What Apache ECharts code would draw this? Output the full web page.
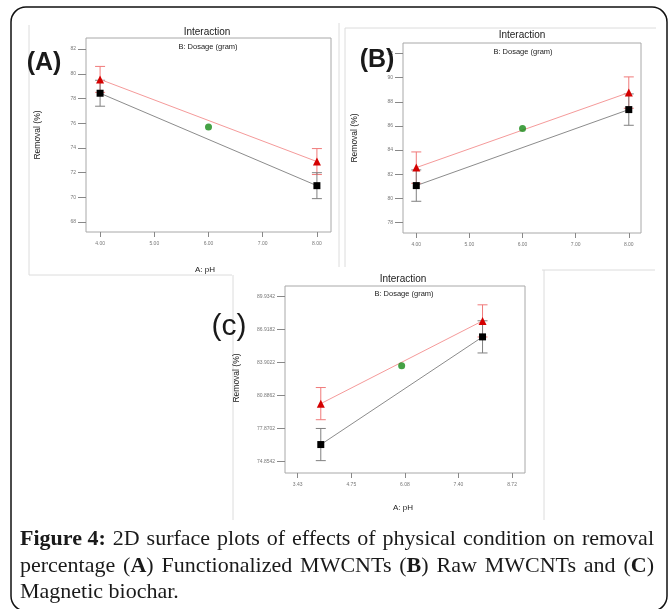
<!DOCTYPE html>
<html>
<head>
<meta charset="utf-8">
<script src="https://cdn.jsdelivr.net/npm/echarts@6/dist/echarts.min.js"></script>
<style>
html, body { margin: 0; padding: 0; background: #fff; }
#main { width: 671px; height: 609px; }
</style>
</head>
<body>
<div id="main"></div>
<script>
// A: pH levels where the two dosage lines sit, and the centre point
var pHLevels = [4, 8];
var centerPH = 6;

// (A) Functionalized MWCNTs
var aHigh = [79.55, 72.9];      // red triangles
var aLow = [78.43, 70.95];      // black squares
var aCenter = 75.7;             // green centre point
var aErr = 1.05;
var aTicksX = [4, 5, 6, 7, 8];
var aTicksY = [68, 70, 72, 74, 76, 78, 80, 82];

// (B) Raw MWCNTs
var bHigh = [82.55, 88.77];
var bLow = [81.06, 87.36];
var bCenter = 85.8;
var bErr = 1.3;
var bTicksX = [4, 5, 6, 7, 8];
var bTicksY = [78, 80, 82, 84, 86, 88, 90, 92];

// (C) Magnetic biochar
var cHigh = [80.12, 87.68];
var cLow = [76.38, 86.22];
var cCenter = 83.58;
var cErr = 1.47;
var cTicksX = [3.43, 4.755, 6.08, 7.405, 8.73];
var cLabelsX = ['3.43', '4.75', '6.08', '7.40', '8.72'];
var cTicksY = [74.8542, 77.8702, 80.8862, 83.9022, 86.9182, 89.9342];

var chart = echarts.init(document.getElementById('main'));

var grids = [
    { left: 86, top: 38, width: 245, height: 194 },
    { left: 403, top: 43, width: 238, height: 190 },
    { left: 285, top: 286, width: 240, height: 187 }
];
grids.forEach(function (g) {
    g.show = true;
    g.borderColor = '#a8a8a8';
    g.borderWidth = 1;
    g.backgroundColor = '#fff';
});

function makeX(idx, min, max, ticks, fmt) {
    return {
        type: 'value', gridIndex: idx, min: min, max: max,
        axisLine: { show: false, onZero: false },
        splitLine: { show: false },
        axisTick: { show: true, length: 5, customValues: ticks, lineStyle: { color: '#888' } },
        axisLabel: { customValues: ticks, fontSize: 5, color: '#777', margin: 9, formatter: fmt }
    };
}
function makeY(idx, min, max, ticks, fmt) {
    return {
        type: 'value', gridIndex: idx, min: min, max: max,
        axisLine: { show: false, onZero: false },
        splitLine: { show: false },
        axisTick: { show: true, length: 8, customValues: ticks, lineStyle: { color: '#888' } },
        axisLabel: { customValues: ticks, fontSize: 5, color: '#777', margin: 10, formatter: fmt }
    };
}
var fix2 = function (v) { return v.toFixed(2); };
var intFmt = function (v) { return String(Math.round(v)); };

function errorBar(params, api) {
    var x = api.value(0);
    var lo = api.coord([x, api.value(1)]);
    var hi = api.coord([x, api.value(2)]);
    var st = { stroke: api.visual('color'), lineWidth: 1 };
    var hw = 5;
    return {
        type: 'group',
        children: [
            { type: 'line', shape: { x1: lo[0], y1: lo[1], x2: hi[0], y2: hi[1] }, style: st },
            { type: 'line', shape: { x1: hi[0] - hw, y1: hi[1], x2: hi[0] + hw, y2: hi[1] }, style: st },
            { type: 'line', shape: { x1: lo[0] - hw, y1: lo[1], x2: lo[0] + hw, y2: lo[1] }, style: st }
        ]
    };
}

function pairs(vals) {
    return pHLevels.map(function (x, i) { return [x, vals[i]]; });
}
function errs(vals, e) {
    return pHLevels.map(function (x, i) { return [x, vals[i] - e, vals[i] + e]; });
}

function panelSeries(idx, high, low, center, e) {
    return [{
        type: 'custom', xAxisIndex: idx, yAxisIndex: idx,
        renderItem: errorBar, encode: { x: 0, y: [1, 2] },
        itemStyle: { color: '#f07a7a' }, data: errs(high, e), z: 2
    }, {
        type: 'custom', xAxisIndex: idx, yAxisIndex: idx,
        renderItem: errorBar, encode: { x: 0, y: [1, 2] },
        itemStyle: { color: '#808080' }, data: errs(low, e), z: 2
    }, {
        type: 'line', xAxisIndex: idx, yAxisIndex: idx,
        data: pairs(high), symbol: 'triangle', symbolSize: 8,
        lineStyle: { color: '#f59a9a', width: 1 },
        itemStyle: { color: '#d40000' }, z: 3
    }, {
        type: 'line', xAxisIndex: idx, yAxisIndex: idx,
        data: pairs(low), symbol: 'rect', symbolSize: 7,
        lineStyle: { color: '#8c8c8c', width: 1 },
        itemStyle: { color: '#000' }, z: 3
    }, {
        type: 'scatter', xAxisIndex: idx, yAxisIndex: idx,
        data: [[centerPH, center]], symbolSize: 7,
        itemStyle: { color: '#178a17' }, z: 4
    }];
}

// caption, justified word by word like the journal page
var capFont = '"Liberation Serif", "DejaVu Serif", serif';
var capSize = 22;
var capLeft = 20, capRight = 654;
var capLines = [
    [[['Figure 4:', 1]], [['2D', 0]], [['surface', 0]], [['plots', 0]], [['of', 0]], [['effects', 0]],
     [['of', 0]], [['physical', 0]], [['condition', 0]], [['on', 0]], [['removal', 0]]],
    [[['percentage', 0]], [['(', 0], ['A', 1], [')', 0]], [['Functionalized', 0]], [['MWCNTs', 0]],
     [['(', 0], ['B', 1], [')', 0]], [['Raw', 0]], [['MWCNTs', 0]], [['and', 0]], [['(', 0], ['C', 1], [')', 0]]],
    [[['Magnetic', 0]], [['biochar.', 0]]]
];
var capY = [539, 566, 592];

var ctx = document.createElement('canvas').getContext('2d');
function measure(t, bold) {
    ctx.font = (bold ? 'bold ' : '') + capSize + 'px ' + capFont;
    return ctx.measureText(t).width;
}
var caption = [];
capLines.forEach(function (words, li) {
    var widths = words.map(function (w) {
        return w.reduce(function (s, seg) { return s + measure(seg[0], seg[1]); }, 0);
    });
    var total = widths.reduce(function (a, b) { return a + b; }, 0);
    var space = measure(' ', 0);
    var gap = li < capLines.length - 1 ? (capRight - capLeft - total) / (words.length - 1) : space;
    var x = capLeft;
    words.forEach(function (w, wi) {
        var sx = x;
        w.forEach(function (seg) {
            caption.push({
                type: 'text', x: sx, y: capY[li],
                style: {
                    text: seg[0], fill: '#1a1a1a', fontFamily: capFont, fontSize: capSize,
                    fontWeight: seg[1] ? 'bold' : 'normal', textVerticalAlign: 'middle'
                }
            });
            sx += measure(seg[0], seg[1]);
        });
        x += widths[wi] + gap;
    });
});

function txt(x, y, s, size, opts) {
    return {
        type: 'text', x: x, y: y, rotation: (opts && opts.rot) || 0,
        style: {
            text: s, fontSize: size, fontFamily: 'Liberation Sans, Arial, sans-serif',
            fontWeight: (opts && opts.bold) ? 'bold' : 'normal',
            fill: (opts && opts.color) || '#1a1a1a', textAlign: 'center', textVerticalAlign: 'middle'
        },
        z: 10
    };
}
function gline(points, color) {
    return { type: 'polyline', shape: { points: points }, style: { stroke: color || '#dcdcdc', lineWidth: 1, fill: null }, z: 1 };
}

var graphics = [
    { type: 'rect', shape: { x: 11, y: 7, width: 656, height: 604, r: 15 },
      style: { fill: null, stroke: '#111', lineWidth: 1.5 }, z: 0 },
    // faint edges of the pasted panels
    gline([[29, 25], [29, 275], [232, 275]]),
    gline([[339, 23], [339, 267]]),
    gline([[345, 267], [345, 28], [656, 28]]),
    gline([[233, 275], [233, 520]]),
    gline([[544, 270], [544, 520]]),
    gline([[542, 270], [655, 270]]),
    // panel A
    txt(207, 32, 'Interaction', 10),
    txt(208, 47, 'B: Dosage (gram)', 7.5),
    txt(38, 135, 'Removal (%)', 8.5, { rot: Math.PI / 2 }),
    txt(205, 270, 'A: pH', 8),
    txt(44, 63, '(A)', 25, { bold: true }),
    // panel B
    txt(522, 35, 'Interaction', 10),
    txt(523, 52, 'B: Dosage (gram)', 7.5),
    txt(355, 138, 'Removal (%)', 8.5, { rot: Math.PI / 2 }),
    txt(377, 60, '(B)', 25, { bold: true }),
    // panel C
    txt(403, 279, 'Interaction', 10),
    txt(404, 294, 'B: Dosage (gram)', 7.5),
    txt(237, 378, 'Removal (%)', 8.5, { rot: Math.PI / 2 }),
    txt(403, 508, 'A: pH', 8),
    txt(229, 327, '(c)', 30)
].concat(caption);

chart.setOption({
    animation: false,
    grid: grids,
    xAxis: [
        makeX(0, 3.74, 8.26, aTicksX, fix2),
        makeX(1, 3.75, 8.23, bTicksX, fix2),
        makeX(2, 3.115, 9.05, cTicksX, function (v) { return cLabelsX[cTicksX.indexOf(v)]; })
    ],
    yAxis: [
        makeY(0, 67.2, 82.9, aTicksY, intFmt),
        makeY(1, 77.13, 92.88, bTicksY, intFmt),
        makeY(2, 73.78, 90.87, cTicksY, function (v) { return v.toFixed(4); })
    ],
    series: []
        .concat(panelSeries(0, aHigh, aLow, aCenter, aErr))
        .concat(panelSeries(1, bHigh, bLow, bCenter, bErr))
        .concat(panelSeries(2, cHigh, cLow, cCenter, cErr)),
    graphic: graphics
});
</script>
</body>
</html>
